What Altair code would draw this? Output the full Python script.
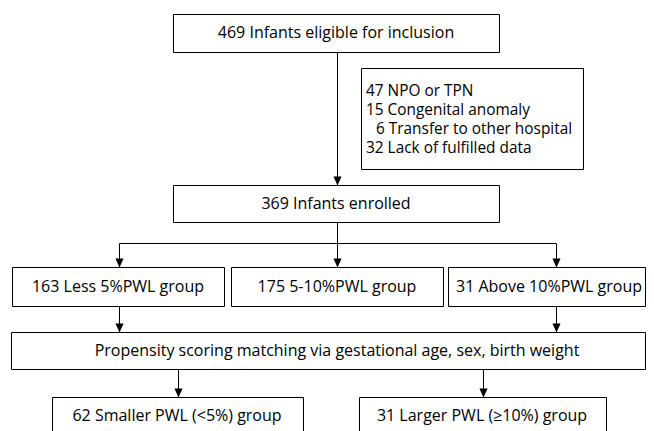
import altair as alt
import pandas as pd

# ---- content ----
box_labels = [
    "469 Infants eligible for inclusion",
    "369 Infants enrolled",
    "163 Less 5%PWL group",
    "175 5-10%PWL group",
    "31 Above 10%PWL group",
    "Propensity scoring matching via gestational age, sex, birth weight",
    "62 Smaller PWL (<5%) group",
    "31 Larger PWL (\u226510%) group",
]
exclusion_counts = ["47", "15", "6", "32"]
exclusion_reasons = ["NPO or TPN", "Congenital anomaly", "Transfer to other hospital", "Lack of fulfilled data"]

# ---- layout (figure pixel grid) ----
box_left = [173, 173, 12, 231, 448, 11, 52, 359]
box_right = [499, 499, 224, 443, 645, 645, 303, 606]
box_top = [14, 185, 267, 267, 267, 332, 397, 397]
box_bottom = [52, 222, 306, 306, 306, 369, 445, 445]
text_x = [336, 336, 118, 337, 549, 337, 177, 482]
text_y = [33, 204, 287, 287, 287, 351, 416, 416]

excl_box = [361, 583, 68, 169]
excl_text_x = [366, 366, 376, 366]
excl_text_y = [91, 110, 129, 148]

# connectors: x1, y1, x2, y2
seg_x1 = [337, 337, 119, 119, 556, 119, 556, 178, 483]
seg_y1 = [52, 222, 243, 243, 243, 306, 306, 369, 369]
seg_x2 = [337, 337, 556, 119, 556, 119, 556, 178, 483]
seg_y2 = [185, 267, 243, 267, 267, 332, 332, 397, 397]
arrow_x = [337, 337, 119, 556, 119, 556, 178, 483]
arrow_y = [185, 267, 267, 267, 332, 332, 397, 397]

W, H = 638, 423
xs = alt.Scale(domain=[8, 8 + W], nice=False, zero=False)
ys = alt.Scale(domain=[8, 8 + H], nice=False, zero=False, reverse=True)

boxes = pd.DataFrame({
    "label": box_labels,
    "x0": [v + 0.5 for v in box_left],
    "x1": [v + 0.5 for v in box_right],
    "y0": [v + 0.5 for v in box_top],
    "y1": [v + 0.5 for v in box_bottom],
    "cx": text_x,
    "ty": text_y,
})
excl = pd.DataFrame({
    "x0": [excl_box[0] + 0.5], "x1": [excl_box[1] + 0.5],
    "y0": [excl_box[2] + 0.5], "y1": [excl_box[3] + 0.5],
})
excl_lines = pd.DataFrame({
    "text": [c + " " + r for c, r in zip(exclusion_counts, exclusion_reasons)],
    "x": excl_text_x,
    "y": excl_text_y,
})
segs = pd.DataFrame({
    "x1": [v + 0.5 for v in seg_x1], "y1": [v + 0.5 for v in seg_y1],
    "x2": [v + 0.5 for v in seg_x2], "y2": [v + 0.5 for v in seg_y2],
})
arrows = pd.DataFrame({"x": [v + 0.5 for v in arrow_x], "y": [v + 0.5 for v in arrow_y]})

FONT = "Open Sans"
FS = 16

rules = alt.Chart(segs).mark_rule(color="black", strokeWidth=1).encode(
    x=alt.X("x1:Q", scale=xs, axis=None), x2="x2:Q",
    y=alt.Y("y1:Q", scale=ys, axis=None), y2="y2:Q",
)
heads = alt.Chart(arrows).mark_point(
    shape="M-0.45,-1L0.45,-1L0,0Z", filled=True, size=324, color="black", strokeWidth=0, opacity=1
).encode(
    x=alt.X("x:Q", scale=xs, axis=None),
    y=alt.Y("y:Q", scale=ys, axis=None),
)
rects = alt.Chart(boxes).mark_rect(fill="white", stroke="black", strokeWidth=1).encode(
    x=alt.X("x0:Q", scale=xs, axis=None), x2="x1:Q",
    y=alt.Y("y0:Q", scale=ys, axis=None), y2="y1:Q",
)
excl_rect = alt.Chart(excl).mark_rect(fill="white", stroke="black", strokeWidth=1).encode(
    x=alt.X("x0:Q", scale=xs, axis=None), x2="x1:Q",
    y=alt.Y("y0:Q", scale=ys, axis=None), y2="y1:Q",
)
labels = alt.Chart(boxes).mark_text(
    font=FONT, fontSize=FS, color="black", align="center", baseline="middle"
).encode(
    x=alt.X("cx:Q", scale=xs, axis=None),
    y=alt.Y("ty:Q", scale=ys, axis=None),
    text="label:N",
)
excl_text = alt.Chart(excl_lines).mark_text(
    font=FONT, fontSize=15.4, color="black", align="left", baseline="middle"
).encode(
    x=alt.X("x:Q", scale=xs, axis=None),
    y=alt.Y("y:Q", scale=ys, axis=None),
    text="text:N",
)

chart = alt.layer(rules, heads, rects, excl_rect, labels, excl_text).properties(
    width=W, height=H, padding=0, autosize=alt.AutoSizeParams(type="none"),
    background="white",
).configure_view(stroke=None)

chart.save("out.html", embed_options={"renderer": "svg", "actions": False})
